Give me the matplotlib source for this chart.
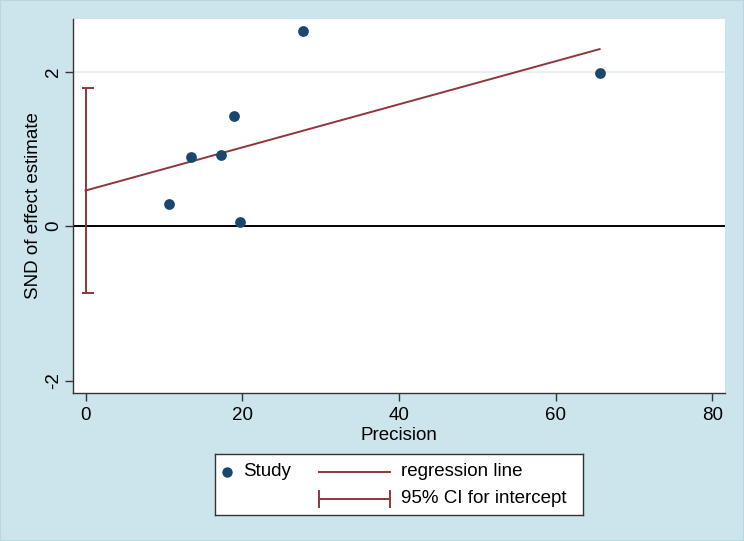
import matplotlib
matplotlib.use("Agg")
import matplotlib.pyplot as plt
from matplotlib.patches import Rectangle

plt.rcParams['font.family'] = ['Liberation Sans', 'DejaVu Sans']
plt.rcParams['axes.unicode_minus'] = False

# data
precision = [10.6, 13.5, 17.3, 19.0, 19.7, 27.7, 65.6]
snd = [0.28, 0.89, 0.92, 1.42, 0.05, 2.52, 1.98]
reg_intercept = 0.46
reg_slope = 0.0279
ci_low, ci_high = -0.87, 1.79
xticks = [0, 20, 40, 60, 80]
yticks = [-2, 0, 2]

navy = '#1a476f'
maroon = '#90353b'
bg = '#cce5ec'
fs = 13.5

W, H = 744, 541
fig = plt.figure(figsize=(W / 100, H / 100), dpi=100, facecolor=bg)
fig.patches.append(Rectangle((0, 0), 1, 1, transform=fig.transFigure,
                             fill=False, edgecolor='#b6d6e0', lw=1.5))

def box(x0, y0, x1, y1):
    return [x0 / W, 1 - y1 / H, (x1 - x0) / W, (y1 - y0) / H]

ax = fig.add_axes(box(73, 19, 725, 393))
ax.set_facecolor('white')
ax.set_xlim(-1.6, 81.6)
ax.set_ylim(-2.16, 2.68)

ax.axhline(2, color='#e6eff2', lw=1.2, zorder=0)
ax.axhline(0, color='black', lw=1.4, zorder=1)

xr = [0, max(precision)]
ax.plot(xr, [reg_intercept + reg_slope * v for v in xr], color=maroon, lw=1.4, zorder=2)

ax.vlines(0, ci_low, ci_high, color=maroon, lw=1.4, zorder=2)
ax.hlines([ci_low, ci_high], -0.45, 1.1, color=maroon, lw=1.4, zorder=2)

ax.scatter(precision, snd, s=60, color=navy, zorder=3, linewidths=0)

for s in ['top', 'right']:
    ax.spines[s].set_visible(False)
for s in ['left', 'bottom']:
    ax.spines[s].set_color('#333333')
    ax.spines[s].set_linewidth(1.0)

ax.set_xticks(xticks)
ax.set_yticks(yticks)
ax.tick_params(axis='both', direction='out', length=6, width=1.0, color='#333333',
               labelsize=fs)
ax.tick_params(axis='x', pad=4)
ax.tick_params(axis='y', pad=2)
for lab in ax.get_yticklabels():
    lab.set_rotation(90)
    lab.set_va('center')
ax.set_xlabel('Precision', fontsize=fs, labelpad=2)
ax.set_ylabel('SND of effect estimate', fontsize=fs, labelpad=2)

# legend drawn in pixel coordinates
lg = fig.add_axes(box(215, 454, 583, 515))
lg.set_xlim(215, 583)
lg.set_ylim(515, 454)
lg.set_xticks([])
lg.set_yticks([])
lg.set_facecolor('white')
for s in lg.spines.values():
    s.set_color('#333333')
    s.set_linewidth(1.0)
r1, r2 = 472, 498.5
lg.plot([227], [r1], 'o', color=navy, ms=7.5, mec='none')
lg.text(243, r1, 'Study', fontsize=fs, va='center', ha='left')
lg.plot([319, 390], [r1, r1], color=maroon, lw=1.4)
lg.text(401, r1, 'regression line', fontsize=fs, va='center', ha='left')
lg.plot([319, 390], [r2, r2], color=maroon, lw=1.4)
lg.plot([319, 319], [r2 - 8, r2 + 8], color=maroon, lw=1.4)
lg.plot([390, 390], [r2 - 8, r2 + 8], color=maroon, lw=1.4)
lg.text(401, r2, '95% CI for intercept', fontsize=fs, va='center', ha='left')

fig.savefig('out.png', dpi=100, facecolor=bg)
